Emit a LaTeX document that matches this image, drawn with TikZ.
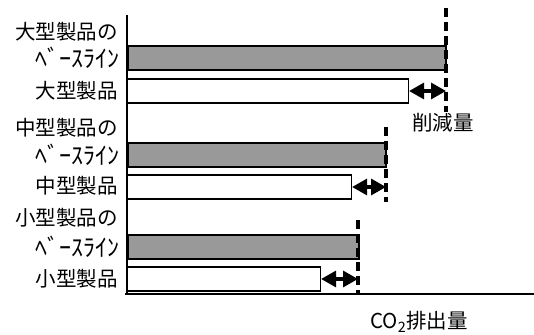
\documentclass[tikz,border=0pt]{standalone}
\usepackage{fontspec}
\newfontfamily\jp{Noto Sans CJK JP}
\usepackage{tikz}
\usetikzlibrary{arrows.meta, positioning, calc}

\begin{document}
\begin{tikzpicture}[
    x=1pt, y=-1pt,
    font=\jp\fontsize{20.5}{24}\selectfont,
    basebar/.style={
        rectangle,
        draw=black,
        line width=1.6pt,
        fill=black!40,
        minimum height=24pt,
        inner sep=0pt,
        anchor=west
    },
    prodbar/.style={
        rectangle,
        draw=black,
        line width=1.1pt,
        fill=white,
        minimum height=24pt,
        inner sep=0pt,
        anchor=west
    },
    label/.style={anchor=east, inner sep=0pt},
    kana/.style={label, font=\jp\fontsize{24}{26}\selectfont},
    cut/.style={line width=3.2pt, {Triangle[length=15pt,width=16pt]}-{Triangle[length=15pt,width=16pt]}},
    limit/.style={line width=3.2pt, dash pattern=on 9pt off 5pt}
]
\useasboundingbox (0,0) rectangle (534,334);

% axes
\coordinate (top) at (127,15);
\coordinate (origin) at (127,294);
\coordinate (left) at (125,294);
\coordinate (right) at (534,294);
\draw[line width=1.2pt] (top) -- (origin);
\draw[line width=1.6pt] (left) -- (right);

% large products
\node[label] (bigname) at (118,32) {大型製品の};
\node[kana] (bigbasename) at (120,58) {ﾍﾞｰｽﾗｲﾝ};
\node[label] (bigprodname) at (118,91) {大型製品};
\node[basebar, minimum width=318pt] (bigbase) at (127,58) {};
\node[prodbar, minimum width=281pt] (bigprod) at (127,91) {};
\coordinate (bigtop) at (446,8);
\coordinate (bigbot) at (446,112);
\draw[limit] (bigtop) -- (bigbot);
\draw[cut] (bigprod.east) -- (bigprod.east -| bigtop);
\node (cutlabel) at (443,123) {削減量};

% medium products
\node[label] (midname) at (118,128) {中型製品の};
\node[kana] (midbasename) at (120,155) {ﾍﾞｰｽﾗｲﾝ};
\node[label] (midprodname) at (118,186) {中型製品};
\node[basebar, minimum width=258pt] (midbase) at (127,155) {};
\node[prodbar, minimum width=224pt] (midprod) at (127,187) {};
\coordinate (midtop) at (386,127);
\coordinate (midbot) at (386,202);
\draw[limit] (midtop) -- (midbot);
\draw[cut] (midprod.east) -- (midprod.east -| midtop);

% small products
\node[label] (smallname) at (118,218) {小型製品の};
\node[kana] (smallbasename) at (120,247) {ﾍﾞｰｽﾗｲﾝ};
\node[label] (smallprodname) at (118,279) {小型製品};
\node[basebar, minimum width=231pt] (smallbase) at (127,247) {};
\node[prodbar, minimum width=193pt] (smallprod) at (127,279) {};
\coordinate (smalltop) at (358,220);
\draw[limit] (smalltop) -- (smalltop |- origin);
\draw[cut] (smallprod.east) -- (smallprod.east -| smalltop);

% axis title
\node (axisname) at (419,322) {CO\textsubscript{2}排出量};

\end{tikzpicture}
\end{document}
